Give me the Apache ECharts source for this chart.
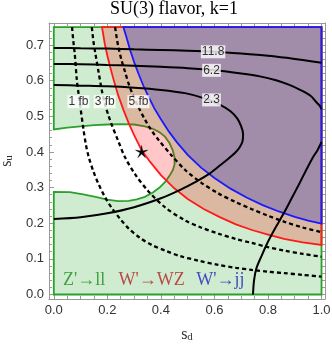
<!DOCTYPE html>
<html style="height: 100%">

<head>
    <meta charset="utf-8">
</head>

<body style="height: 100%; margin: 0">
    <div id="container" style="width: 332px; height: 346px"></div>
    <script type="text/javascript" src="https://cdn.jsdelivr.net/npm/echarts@6/dist/echarts.min.js"></script>
    <script type="text/javascript">
        // all points are [s_d, s_u]

        // Z'->ll allowed region (outer box with the white notch on the left)
        var greenRegion = [
            [0, 0], [1, 0], [1, 0.75], [0, 0.75], [0, 0.463],
            [0.05, 0.468], [0.1, 0.472], [0.15, 0.475], [0.2, 0.477], [0.25, 0.478], [0.3, 0.477],
            [0.34, 0.472], [0.37, 0.465], [0.395, 0.455], [0.415, 0.443], [0.432, 0.425],
            [0.444, 0.405], [0.451, 0.385], [0.451, 0.365], [0.445, 0.35], [0.432, 0.333],
            [0.415, 0.315], [0.395, 0.3], [0.37, 0.286], [0.34, 0.274], [0.31, 0.267],
            [0.28, 0.263], [0.24, 0.262], [0.2, 0.266], [0.16, 0.273], [0.11, 0.281],
            [0.06, 0.287], [0, 0.288]
        ];
        // W'->WZ boundary
        var redCurve = [
            [0.18, 0.75], [0.19, 0.705], [0.2, 0.67], [0.21, 0.64], [0.225, 0.598], [0.24, 0.56],
            [0.26, 0.518], [0.28, 0.48], [0.3, 0.447], [0.328, 0.405], [0.36, 0.372], [0.4, 0.335],
            [0.45, 0.298], [0.5, 0.268], [0.56, 0.24], [0.62, 0.217], [0.68, 0.197], [0.74, 0.181],
            [0.8, 0.168], [0.86, 0.156], [0.93, 0.146], [1, 0.139]
        ];
        // W'->jj boundary
        var blueCurve = [
            [0.26, 0.75], [0.27, 0.725], [0.285, 0.686], [0.3, 0.652], [0.316, 0.62], [0.335, 0.585],
            [0.355, 0.553], [0.375, 0.523], [0.4, 0.492], [0.43, 0.457], [0.46, 0.427], [0.5, 0.392],
            [0.55, 0.356], [0.6, 0.327], [0.66, 0.297], [0.72, 0.272], [0.78, 0.251], [0.84, 0.233],
            [0.9, 0.218], [0.95, 0.207], [1, 0.199]
        ];

        // cross section contours (dashed)
        var fb1 = [
            [0.068, 0.75], [0.073, 0.71], [0.078, 0.677], [0.086, 0.602], [0.093, 0.56], [0.099, 0.527],
            [0.111, 0.462], [0.12, 0.42], [0.13, 0.387], [0.148, 0.345], [0.167, 0.31], [0.19, 0.275],
            [0.217, 0.242], [0.25, 0.21], [0.28, 0.185], [0.32, 0.16], [0.366, 0.139], [0.42, 0.122],
            [0.47, 0.108], [0.54, 0.095], [0.614, 0.083], [0.68, 0.075], [0.74, 0.069], [0.8, 0.064],
            [0.86, 0.06], [0.93, 0.055], [1, 0.05]
        ];
        var fb3 = [
            [0.142, 0.75], [0.148, 0.71], [0.155, 0.677], [0.167, 0.625], [0.18, 0.57], [0.192, 0.532],
            [0.205, 0.5], [0.217, 0.475], [0.241, 0.43], [0.266, 0.385], [0.304, 0.337], [0.353, 0.29],
            [0.415, 0.245], [0.49, 0.208], [0.55, 0.188], [0.614, 0.171], [0.68, 0.156], [0.738, 0.145],
            [0.8, 0.133], [0.862, 0.123], [0.93, 0.114], [1, 0.106]
        ];
        var fb5 = [
            [0.229, 0.75], [0.235, 0.72], [0.241, 0.695], [0.252, 0.66], [0.266, 0.625], [0.28, 0.59],
            [0.297, 0.557], [0.318, 0.523], [0.341, 0.49], [0.365, 0.46], [0.39, 0.435], [0.44, 0.39],
            [0.49, 0.35], [0.55, 0.314], [0.614, 0.284], [0.68, 0.259], [0.738, 0.24], [0.8, 0.221],
            [0.862, 0.204], [0.93, 0.188], [1, 0.175]
        ];

        // chi2 contours (solid)
        var chi118 = [
            [0, 0.692], [0.1, 0.691], [0.2, 0.69], [0.3, 0.688], [0.4, 0.686], [0.5, 0.684],
            [0.6, 0.681], [0.7, 0.676], [0.8, 0.67], [0.87, 0.664], [0.93, 0.658], [1, 0.65]
        ];
        var chi62 = [
            [0, 0.647], [0.1, 0.646], [0.2, 0.644], [0.3, 0.642], [0.4, 0.639], [0.5, 0.635],
            [0.6, 0.629], [0.7, 0.62], [0.77, 0.612], [0.83, 0.601], [0.88, 0.588], [0.92, 0.574],
            [0.96, 0.557], [0.98, 0.54], [0.993, 0.53], [1, 0.52]
        ];
        var chi23 = [
            [0, 0.588], [0.1, 0.586], [0.2, 0.584], [0.3, 0.58], [0.4, 0.574], [0.49, 0.565],
            [0.56, 0.551], [0.62, 0.533], [0.66, 0.514], [0.685, 0.494], [0.7, 0.472], [0.707, 0.45],
            [0.705, 0.43], [0.695, 0.414], [0.68, 0.4], [0.655, 0.383], [0.62, 0.362], [0.583, 0.34],
            [0.53, 0.316], [0.47, 0.293], [0.4, 0.27], [0.3, 0.245], [0.2, 0.228], [0.1, 0.217],
            [0, 0.212]
        ];
        var chi23b = [
            [1, 0.428], [0.985, 0.405], [0.968, 0.385], [0.94, 0.345], [0.915, 0.308], [0.89, 0.272],
            [0.862, 0.232], [0.83, 0.19], [0.8, 0.148], [0.777, 0.11], [0.757, 0.074], [0.748, 0.04],
            [0.744, 0]
        ];

        var contourLabels = [[0.595, 0.681, '11.8'], [0.589, 0.629, '6.2'], [0.589, 0.546, '2.3']];
        var fbLabels = [[0.092, 0.541, '1 fb'], [0.19, 0.541, '3 fb'], [0.316, 0.541, '5 fb']];
        var bestFit = [0.328, 0.401];
        var channelNames = ["Z'\u2192ll", "W'\u2192WZ", "W'\u2192jj"];
        var channelPos = [[0.113, 0.041], [0.365, 0.041], [0.622, 0.041]];

        var xMajor = [0, 0.2, 0.4, 0.6, 0.8, 1.0];
        var yMajor = [0, 0.1, 0.2, 0.3, 0.4, 0.5, 0.6, 0.7];

        var X_MIN = -0.018, X_MAX = 1.013;
        var Y_MIN = -0.0126, Y_MAX = 0.7618;
        var FRAME = '#999';

        function minorTicks(step, count, every) {
            var out = [];
            for (var i = 1; i <= count; i++) {
                if (i % every !== 0) out.push(Math.round(i * step * 1000) / 1000);
            }
            return out;
        }
        var xMinor = minorTicks(0.05, 19, 4);
        var yMinor = minorTicks(0.02, 37, 5);

        function frameAxis(isX, position, ticks, len, labels) {
            return {
                type: 'value',
                position: position,
                min: isX ? X_MIN : Y_MIN,
                max: isX ? X_MAX : Y_MAX,
                axisLine: { show: len > 3, onZero: false, lineStyle: { color: FRAME, width: 1 } },
                axisTick: { show: true, inside: true, length: len, customValues: ticks, lineStyle: { color: FRAME } },
                axisLabel: labels ? {
                    show: true,
                    customValues: ticks,
                    margin: 5,
                    color: '#333',
                    fontFamily: 'Liberation Sans',
                    fontSize: 13,
                    formatter: function (v) { return v.toFixed(1); }
                } : { show: false },
                splitLine: { show: false }
            };
        }

        function regionSeries(pts, fill, stroke, z) {
            return {
                type: 'custom',
                silent: true,
                z: z,
                data: [0],
                renderItem: function (params, api) {
                    return {
                        type: 'polygon',
                        shape: { points: pts.map(function (p) { return api.coord(p); }) },
                        style: { fill: fill, stroke: stroke, lineWidth: 1.8 }
                    };
                }
            };
        }

        function curveSeries(pts, dashed) {
            return {
                type: 'line',
                data: pts,
                smooth: 0.3,
                symbol: 'none',
                silent: true,
                z: 4,
                lineStyle: { color: '#000', width: dashed ? 2.3 : 2, type: dashed ? [4, 3] : 'solid' }
            };
        }

        function labelSeries(items) {
            return {
                type: 'scatter',
                data: items,
                symbolSize: 0,
                itemStyle: { color: 'rgba(0,0,0,0)' },
                silent: true,
                z: 6,
                label: {
                    show: true,
                    position: 'inside',
                    formatter: function (p) { return p.value[2]; },
                    backgroundColor: '#fff',
                    padding: [1, 1, 0, 1],
                    color: '#000',
                    fontFamily: 'Liberation Sans',
                    fontSize: 12
                }
            };
        }

        var channelColors = ['#1e8c1e', '#b22222', '#2020b8'];

        var dom = document.getElementById("container");
        var myChart = echarts.init(dom);

        var option = {
            animation: false,
            title: {
                text: 'SU(3) flavor, k=1',
                left: 110,
                top: 0,
                padding: 0,
                textStyle: { fontFamily: 'Liberation Serif', fontSize: 18, fontWeight: 'normal', color: '#000' }
            },
            grid: { left: 49, right: 7, top: 23, bottom: 47, containLabel: false, outerBoundsMode: 'none' },
            xAxis: [
                Object.assign(frameAxis(true, 'bottom', xMajor, 5, true), {
                    name: '{s|s}{sub|d}',
                    nameLocation: 'middle',
                    nameGap: 27,
                    nameTextStyle: {
                        rich: {
                            s: { fontFamily: 'Liberation Serif', fontSize: 16, color: '#333' },
                            sub: { fontFamily: 'Liberation Serif', fontSize: 11, color: '#333', verticalAlign: 'bottom', padding: [6, 0, 0, 0] }
                        }
                    }
                }),
                frameAxis(true, 'bottom', xMinor, 3, false),
                frameAxis(true, 'top', xMajor, 5, false),
                frameAxis(true, 'top', xMinor, 3, false)
            ],
            yAxis: [
                Object.assign(frameAxis(false, 'left', yMajor, 5, true), {
                    name: '{s|s}{sub|u}',
                    nameLocation: 'middle',
                    nameGap: 27,
                    nameRotate: 90,
                    nameTextStyle: {
                        rich: {
                            s: { fontFamily: 'Liberation Serif', fontSize: 16, color: '#333' },
                            sub: { fontFamily: 'Liberation Serif', fontSize: 11, color: '#333', verticalAlign: 'bottom', padding: [6, 0, 0, 0] }
                        }
                    }
                }),
                frameAxis(false, 'left', yMinor, 3, false),
                frameAxis(false, 'right', yMajor, 5, false),
                frameAxis(false, 'right', yMinor, 3, false)
            ],
            series: [
                regionSeries(greenRegion, '#d0ecd0', '#2ca02c', 1),
                regionSeries(redCurve.concat([[1, 0.75]]), 'rgba(255,0,0,0.22)', '#ff1a1a', 2),
                regionSeries(blueCurve.concat([[1, 0.75]]), 'rgba(30,40,190,0.3)', '#1a1aff', 3),
                curveSeries(fb1, true),
                curveSeries(fb3, true),
                curveSeries(fb5, true),
                curveSeries(chi118, false),
                curveSeries(chi62, false),
                curveSeries(chi23, false),
                curveSeries(chi23b, false),
                labelSeries(contourLabels),
                labelSeries(fbLabels),
                {
                    type: 'scatter',
                    data: [bestFit],
                    symbol: 'path://M0,-10 L1.47,-2.02 L9.51,-3.09 L2.38,0.77 L5.88,8.09 L0,2.5 L-5.88,8.09 L-2.38,0.77 L-9.51,-3.09 L-1.47,-2.02 Z',
                    symbolSize: 12,
                    itemStyle: { color: '#000', opacity: 1, borderColor: '#000', borderWidth: 0.5 },
                    silent: true,
                    z: 7
                },
                {
                    type: 'scatter',
                    data: channelNames.map(function (n, i) {
                        return { name: n, value: channelPos[i], label: { color: channelColors[i] } };
                    }),
                    symbolSize: 0,
                    itemStyle: { color: 'rgba(0,0,0,0)' },
                    silent: true,
                    z: 7,
                    label: {
                        show: true,
                        position: 'inside',
                        formatter: '{b}',
                        fontFamily: 'Liberation Serif',
                        fontSize: 18
                    }
                }
            ]
        };

        myChart.setOption(option, true);
    </script>
</body>

</html>
